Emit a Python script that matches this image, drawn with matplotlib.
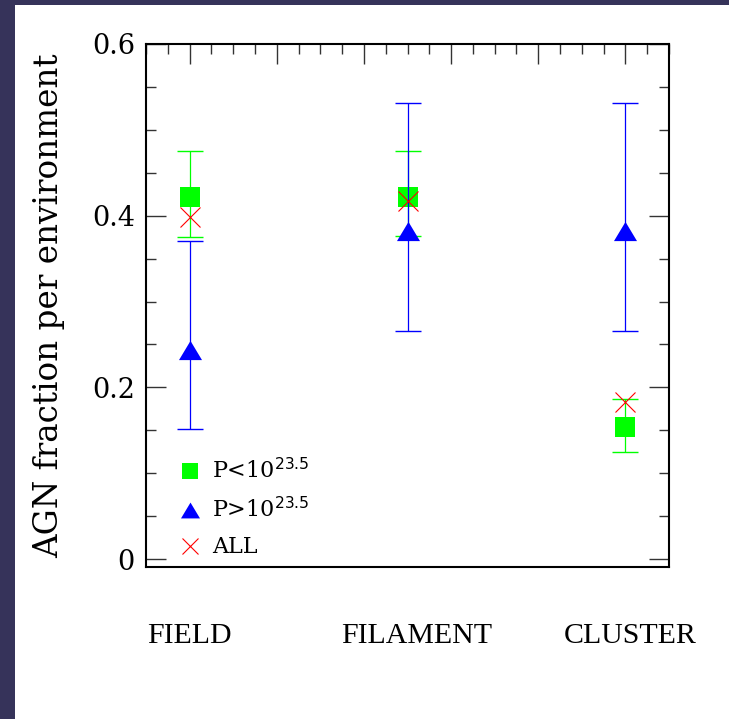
import matplotlib.pyplot as plt
import matplotlib.ticker as mticker
from matplotlib.lines import Line2D
from matplotlib.patches import Rectangle

# environments and their x positions
envs = ["FIELD", "FILAMENT", "CLUSTER"]
x_env = [1.0, 3.5, 6.0]

# AGN fraction, P < 10^23.5
low_frac = [0.422, 0.422, 0.154]
low_up = [0.053, 0.053, 0.033]
low_dn = [0.047, 0.046, 0.029]

# AGN fraction, P > 10^23.5
high_frac = [0.244, 0.382, 0.382]
high_up = [0.127, 0.149, 0.149]
high_dn = [0.092, 0.116, 0.116]

# all AGN
all_frac = [0.398, 0.417, 0.183]

fig = plt.figure(figsize=(7.29, 7.19), dpi=100)
fig.patch.set_facecolor("#36335a")
fig.add_artist(Rectangle((15/729, 0), 1, 1 - 5/719, transform=fig.transFigure,
                         facecolor="white", edgecolor="none", zorder=0))

ax = fig.add_axes([146/729, 1 - 567/719, 523/729, 523/719])

tri = [(-1.2, -1), (1.2, -1), (0, 1)]

# green: low power
ax.errorbar(x_env, low_frac, yerr=[low_dn, low_up], fmt="none", ecolor="#00ff00",
            elinewidth=0.9, capsize=9.7, capthick=1.0, zorder=3)
ax.plot(x_env, low_frac, ls="none", marker="s", ms=14.4, mew=0, color="#00ff00", zorder=3)
# blue: high power
ax.errorbar(x_env, high_frac, yerr=[high_dn, high_up], fmt="none", ecolor="#0000ff",
            elinewidth=0.9, capsize=9.7, capthick=1.0, zorder=4)
ax.plot(x_env, high_frac, ls="none", marker=tri, ms=16.6, color="#0000ff", mew=0, zorder=5)
# red: all
ax.plot(x_env, all_frac, ls="none", marker="x", ms=14.4, color="#ff0000", mew=0.8, zorder=6)

ax.set_xlim(0.5, 6.5)
ax.set_ylim(-0.0093, 0.6)

ax.xaxis.set_major_locator(mticker.MultipleLocator(1))
ax.xaxis.set_minor_locator(mticker.MultipleLocator(0.25))
ax.yaxis.set_major_locator(mticker.FixedLocator([0, 0.2, 0.4, 0.6]))
ax.yaxis.set_minor_locator(mticker.MultipleLocator(0.05))
ax.yaxis.set_major_formatter(mticker.FuncFormatter(lambda v, p: "0" if abs(v) < 1e-9 else "%.1f" % v))

ax.tick_params(axis="x", which="both", direction="in", bottom=False, top=True,
               labelbottom=False, labeltop=False, color="#333333")
ax.tick_params(axis="y", which="both", direction="in", left=True, right=True,
               labelleft=True, labelright=False, color="#333333", pad=8)
ax.tick_params(which="major", length=14.4, width=1.0)
ax.tick_params(which="minor", length=7.2, width=1.0)
for s in ax.spines.values():
    s.set_linewidth(1.5)

for lab in ax.get_yticklabels():
    lab.set_fontfamily("DejaVu Serif")
    lab.set_fontsize(19.5)

ax.text(-0.185, 0.5, "AGN fraction per environment", rotation=90, ha="center", va="center",
        transform=ax.transAxes, fontsize=23.5, family="DejaVu Serif")

label_x = [1.0, 3.6, 6.05]
for lx, name in zip(label_x, envs):
    ax.text(lx, -0.132, name, ha="center", va="center", fontsize=21.5,
            family="Liberation Serif", transform=ax.get_xaxis_transform())

plt.rcParams["mathtext.fontset"] = "custom"
plt.rcParams["mathtext.sf"] = "DejaVu Sans"
handles = [
    Line2D([], [], ls="none", marker="s", ms=12.2, mew=0, color="#00ff00"),
    Line2D([], [], ls="none", marker=tri, ms=13.7, mew=0, color="#0000ff"),
    Line2D([], [], ls="none", marker="x", ms=12.2, mew=0.8, color="#ff0000"),
]
labels = [r"P<10$^{\mathsf{23.5}}$", r"P>10$^{\mathsf{23.5}}$", "ALL"]
ax.legend(handles, labels, loc="center left", bbox_to_anchor=(0.063, 0.112),
          frameon=False, handlelength=0.95, handletextpad=0.55, labelspacing=0.62,
          borderpad=0, borderaxespad=0, prop={"family": "DejaVu Serif", "size": 16})

fig.savefig("out.png", dpi=100, facecolor=fig.get_facecolor())
